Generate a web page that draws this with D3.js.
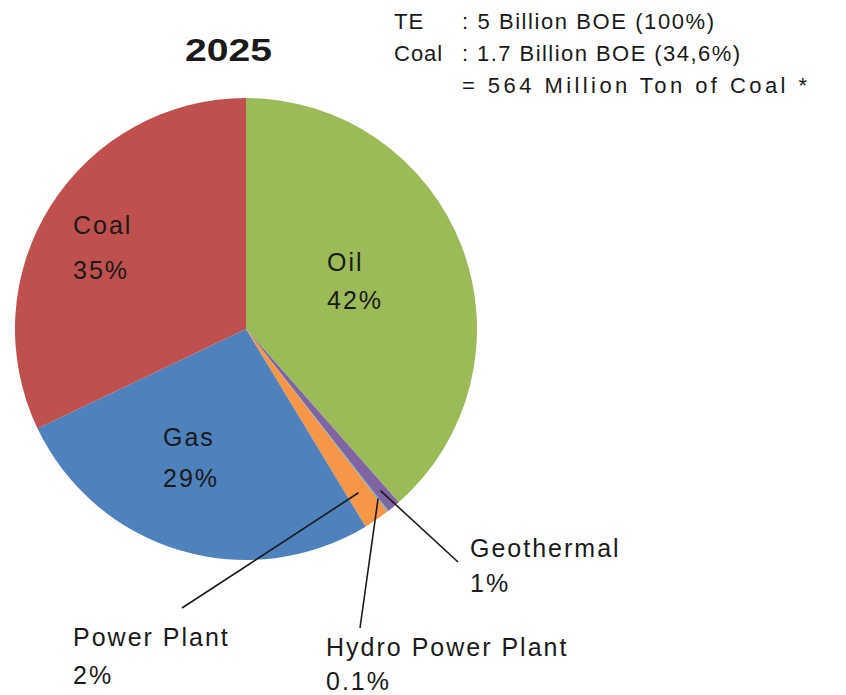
<!DOCTYPE html>
<html>
<head>
<meta charset="utf-8">
<script src="https://cdn.jsdelivr.net/npm/d3@7"></script>
<style>
  html, body { margin: 0; padding: 0; background: #ffffff; }
  svg { display: block; }
  text { font-family: "Liberation Sans", Arial, sans-serif; fill: #1a1a1a; }
</style>
</head>
<body>
<svg id="chart" width="846" height="695"></svg>
<script>
// Energy mix shares, clockwise from 12 o'clock
const categories = ["Oil", "Geothermal", "Hydro Power Plant", "Power Plant", "Gas", "Coal"];
const shares = [42, 1, 0.1, 2, 29, 35];
const shareLabels = ["42%", "1%", "0.1%", "2%", "29%", "35%"];
const colors = ["#9BBB59", "#8064A2", "#4BACC6", "#F79646", "#4F81BD", "#C0504D"];

// Summary block (top right)
const summaryKeys = ["TE", "Coal", ""];
const summaryValues = [": 5 Billion BOE (100%)", ": 1.7 Billion BOE (34,6%)", "= 564 Million Ton of Coal *"];

const title = "2025";

const svg = d3.select("#chart");
const cx = 246, cy = 329, R = 231;

const data = categories.map((c, i) => ({ name: c, value: shares[i], label: shareLabels[i], color: colors[i] }));

const pie = d3.pie().value(d => d.value).sort(null).startAngle(0).endAngle(2 * Math.PI);
const arc = d3.arc().innerRadius(0).outerRadius(R);
const arcs = pie(data);

const g = svg.append("g").attr("transform", `translate(${cx},${cy})`);

g.selectAll("path.slice")
  .data(arcs)
  .join("path")
  .attr("class", "slice")
  .attr("d", arc)
  .attr("fill", d => d.data.color);

const labelFont = 25;
const labelSpacing = 2;

// Labels drawn inside the larger slices
const inside = {
  "Coal": { x: 73, y: 234, dy: 45 },
  "Oil": { x: 327, y: 271, dy: 38 },
  "Gas": { x: 163, y: 446, dy: 41 }
};
arcs.filter(a => inside[a.data.name]).forEach(a => {
  const p = inside[a.data.name];
  [a.data.name, a.data.label].forEach((txt, k) => {
    svg.append("text")
      .attr("x", p.x).attr("y", p.y + k * p.dy)
      .attr("font-size", labelFont)
      .attr("letter-spacing", labelSpacing)
      .text(txt);
  });
});

// Callout labels with leader lines for the thin slices
const callouts = {
  "Geothermal": { r: 0.91, lx: 458, ly: 562, tx: 470, ty: 557, dy: 35 },
  "Hydro Power Plant": { r: 0.93, lx: 360, ly: 628, tx: 326, ty: 656, dy: 34 },
  "Power Plant": { r: 0.86, lx: 182, ly: 608, tx: 73, ty: 646, dy: 38 }
};
arcs.filter(a => callouts[a.data.name]).forEach(a => {
  const c = callouts[a.data.name];
  const mid = (a.startAngle + a.endAngle) / 2;
  const rr = R * c.r;
  svg.append("line")
    .attr("x1", cx + rr * Math.sin(mid)).attr("y1", cy - rr * Math.cos(mid))
    .attr("x2", c.lx).attr("y2", c.ly)
    .attr("stroke", "#1a1a1a")
    .attr("stroke-width", 1.6);
  [a.data.name, a.data.label].forEach((txt, k) => {
    svg.append("text")
      .attr("x", c.tx).attr("y", c.ty + k * c.dy)
      .attr("font-size", labelFont)
      .attr("letter-spacing", labelSpacing)
      .text(txt);
  });
});

// Title
svg.append("text")
  .attr("x", 185).attr("y", 61)
  .attr("font-size", 32)
  .attr("font-weight", "bold")
  .attr("fill", "#111")
  .attr("textLength", 87)
  .attr("lengthAdjust", "spacingAndGlyphs")
  .text(title);

// Summary block
const valueSpans = [252, 278, 345];
summaryKeys.forEach((k, i) => {
  const y = 29 + i * 32;
  if (k) {
    svg.append("text").attr("x", 394).attr("y", y)
      .attr("font-size", 22).attr("letter-spacing", 1).text(k);
  }
  svg.append("text").attr("x", 462).attr("y", y)
    .attr("font-size", 22)
    .attr("textLength", valueSpans[i])
    .attr("lengthAdjust", "spacing")
    .text(summaryValues[i]);
});
</script>
</body>
</html>
